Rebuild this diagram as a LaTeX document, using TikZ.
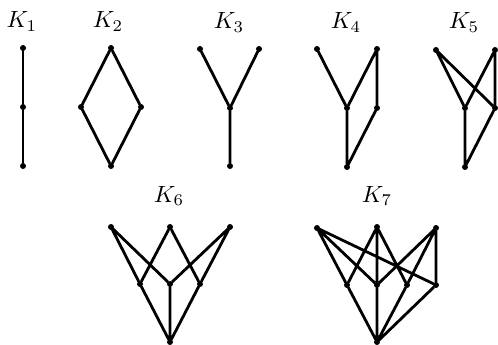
\documentclass[tikz,border=0pt]{standalone}
\begin{document}
\begin{tikzpicture}[x=1pt,y=-1pt,
  v/.style={circle,fill=black,inner sep=0pt,minimum size=6pt},
  e/.style={line width=2.8pt,line cap=round},
  lab/.style={anchor=base,inner sep=0pt}]
\useasboundingbox (0,0) rectangle (498,345);
% labels
\node[lab] (l1) at (22,28) {\scalebox{2.35}{$K_1$}};
\node[lab] (l2) at (108,28) {\scalebox{2.35}{$K_2$}};
\node[lab] (l3) at (229,29) {\scalebox{2.35}{$K_3$}};
\node[lab] (l4) at (346,29) {\scalebox{2.35}{$K_4$}};
\node[lab] (l5) at (464,29) {\scalebox{2.35}{$K_5$}};
\node[lab] (l6) at (169,202) {\scalebox{2.35}{$K_6$}};
\node[lab] (l7) at (377,202) {\scalebox{2.35}{$K_7$}};
% K1
\node[v] (a1) at (23,48) {};
\node[v] (a2) at (23,107) {};
\node[v] (a3) at (23,166) {};
\draw[e] (a1)--(a2)--(a3);
% K2
\node[v] (b1) at (111,48) {};
\node[v] (b2) at (81,107) {};
\node[v] (b3) at (141,107) {};
\node[v] (b4) at (111,166) {};
\draw[e] (b1)--(b2)--(b4)--(b3)--(b1);
% K3
\node[v] (c1) at (200,49) {};
\node[v] (c2) at (259,49) {};
\node[v] (c3) at (230,108) {};
\node[v] (c4) at (230,166) {};
\draw[e] (c1)--(c3)--(c2) (c3)--(c4);
% K4
\node[v] (d1) at (317,49) {};
\node[v] (d2) at (377,49) {};
\node[v] (d3) at (347,108) {};
\node[v] (d4) at (377,108) {};
\node[v] (d5) at (347,167) {};
\draw[e] (d1)--(d3)--(d2)--(d4)--(d5)--(d3);
% K5
\node[v] (f1) at (436,50) {};
\node[v] (f2) at (495,50) {};
\node[v] (f3) at (465,108) {};
\node[v] (f4) at (495,108) {};
\node[v] (f5) at (465,167) {};
\draw[e] (f1)--(f3)--(f2)--(f4)--(f5)--(f3) (f1)--(f4);
% K6
\node[v] (g1) at (111,227) {};
\node[v] (g2) at (170,227) {};
\node[v] (g3) at (230,227) {};
\node[v] (g4) at (140,284) {};
\node[v] (g5) at (170,284) {};
\node[v] (g6) at (200,284) {};
\node[v] (g7) at (170,342) {};
\draw[e] (g1)--(g4) (g1)--(g5) (g2)--(g4) (g2)--(g6) (g3)--(g5) (g3)--(g6)
  (g4)--(g7) (g5)--(g7) (g6)--(g7);
% K7
\node[v] (h1) at (317,228) {};
\node[v] (h2) at (377,227) {};
\node[v] (h3) at (436,228) {};
\node[v] (h4) at (347,285) {};
\node[v] (h5) at (377,285) {};
\node[v] (h6) at (407,285) {};
\node[v] (h7) at (436,285) {};
\node[v] (h8) at (377,342) {};
\draw[e] (h1)--(h4) (h1)--(h5) (h1)--(h7)
  (h2)--(h4) (h2)--(h5) (h2)--(h6)
  (h3)--(h5) (h3)--(h6) (h3)--(h7)
  (h4)--(h8) (h5)--(h8) (h6)--(h8) (h7)--(h8);
\end{tikzpicture}
\end{document}
